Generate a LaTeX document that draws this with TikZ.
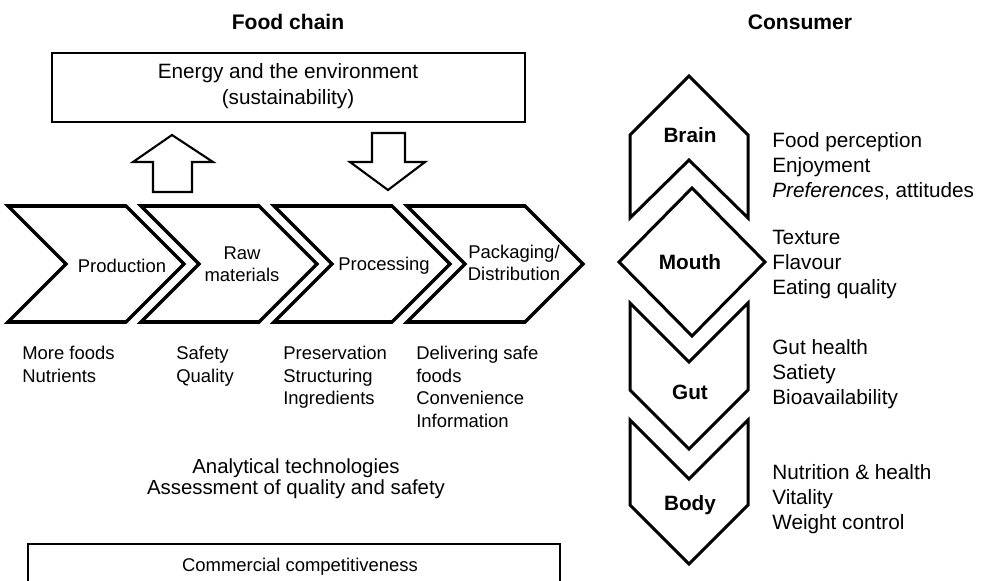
\documentclass[tikz,border=0pt]{standalone}
\usepackage{fontspec}
\setmainfont{Liberation Sans}
\usetikzlibrary{positioning}
\tikzset{chev/.style={draw=black, line width=2pt, line join=miter},
  organ/.style={draw=black, line width=1.7pt, line join=miter},
  blockarrow/.style={draw=black, line width=1.2pt, line join=miter},
  panel/.style={draw=black, line width=0.9pt},
  head/.style={inner sep=0, font=\fontsize{12}{14}\selectfont\bfseries},
  stage/.style={inner sep=0, align=center, font=\fontsize{10.5}{12.6}\selectfont},
  note/.style={inner sep=0, align=left, anchor=north west, font=\fontsize{10.5}{12.8}\selectfont},
  effect/.style={inner sep=0, align=left, anchor=north west, font=\fontsize{11.8}{14.2}\selectfont},
  organname/.style={inner sep=0, font=\fontsize{11.8}{14}\selectfont\bfseries}}

\begin{document}
\begin{tikzpicture}[x=0.02cm, y=-0.02cm]
    \useasboundingbox (0,0) rectangle (984,581);

    \node[head] (foodchain) at (288,22) {Food chain};
    \node[head] (consumer) at (800,22) {Consumer};

    % energy box and the two block arrows
    \draw[panel] (52,53) rectangle (525,122);
    \node[stage, font=\fontsize{11.8}{14.7}\selectfont] (energy) at (288,86) {Energy and the environment\\(sustainability)};
    \draw[blockarrow] (153,192) -- (153,162) -- (133,162) -- (172,135) -- (213,162) -- (192,162) -- (192,192) -- cycle;
    \draw[blockarrow] (372,133) -- (405,133) -- (405,162) -- (425,162) -- (388,190) -- (350,162) -- (372,162) -- cycle;

    \foreach \i in {0,1,2,3}
    {
      \pgfmathsetmacro{\xa}{8+133*\i}
      \draw[chev] (\xa,206) -- ++(118,0) -- ++(58,58) -- ++(-58,58) -- ++(-118,0) -- ++(58,-58) -- cycle;
    }
    \node[stage] (prod) at (122,266) {Production};
    \node[stage] (raw) at (242,264) {Raw\\materials};
    \node[stage] (proc) at (384,266) {Processing};
    \node[stage] (pack) at (514,263) {Packaging/\\Distribution};

    \node[note] (prodnote) at (22,346) {More foods\\Nutrients};
    \node[note] (rawnote) at (176,346) {Safety\\Quality};
    \node[note] (procnote) at (283,346) {Preservation\\Structuring\\Ingredients};
    \node[note] (packnote) at (416,346) {Delivering safe\\foods\\Convenience\\Information};

    \node[stage, font=\fontsize{11.6}{12.2}\selectfont] (analytic) at (296,479) {Analytical technologies\\Assessment of quality and safety};

    \draw[panel] (28,590) |- (560,544) -- (560,590);
    \node[stage] (commercial) at (300,567) {Commercial competitiveness};

    % consumer side
    \draw[organ] (630,135) -- (689,76) -- (748,135) -- (748,218) -- (689,160) -- (630,218) -- cycle;
    \draw[organ] (692,188) -- (765,262) -- (692,336) -- (619,262) -- cycle;
    \draw[organ] (630,303) -- (689,362) -- (748,303) -- (748,390) -- (689,449) -- (630,390) -- cycle;
    \draw[organ] (630,420) -- (689,479) -- (748,420) -- (748,505) -- (689,564) -- (630,505) -- cycle;
    \node[organname] (brain) at (690,135) {Brain};
    \node[organname] (mouth) at (690,262) {Mouth};
    \node[organname] (gut) at (690,392) {Gut};
    \node[organname] (body) at (690,505) {Body};

    \node[effect] (brainfx) at (772,132) {Food perception\\Enjoyment\\\textit{Preferences}, attitudes};
    \node[effect] (mouthfx) at (772,230) {Texture\\Flavour\\Eating quality};
    \node[effect] (gutfx) at (772,339) {Gut health\\Satiety\\Bioavailability};
    \node[effect] (bodyfx) at (772,464) {Nutrition \& health\\Vitality\\Weight control};
\end{tikzpicture}
\end{document}
